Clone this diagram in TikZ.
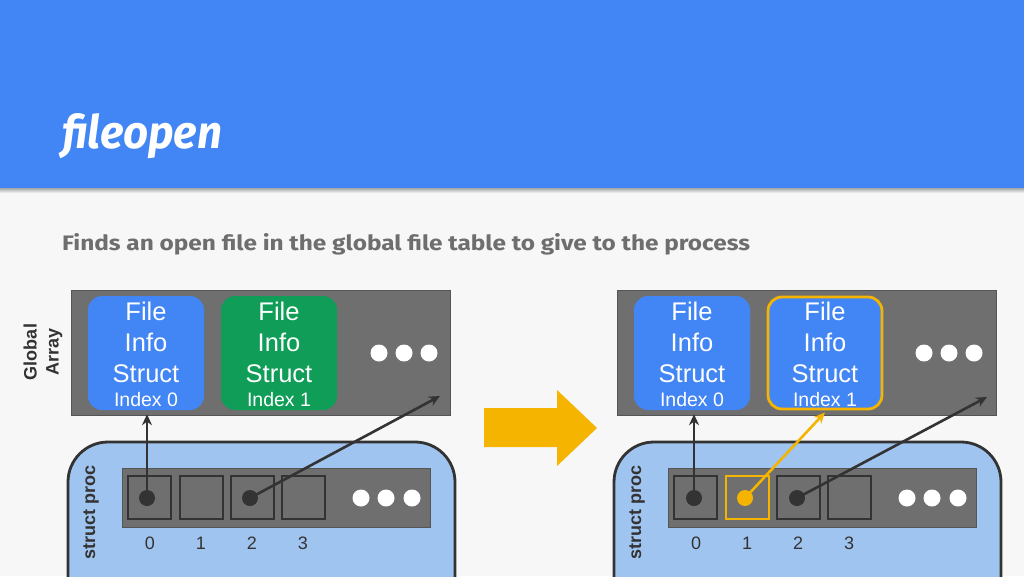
\documentclass[tikz,border=0pt]{standalone}
\usepackage{fontspec}
\setmainfont{Liberation Sans}
\newfontfamily\headfont{Fira Sans}
\usetikzlibrary{arrows.meta,shapes.geometric}
\definecolor{hdrblue}{HTML}{4285F4}
\definecolor{bgcol}{HTML}{F7F7F7}
\definecolor{arrgray}{HTML}{6F6F6F}
\definecolor{edgegray}{HTML}{555555}
\definecolor{dark}{HTML}{333333}
\definecolor{fblue}{HTML}{4285F4}
\definecolor{fgreen}{HTML}{0F9D58}
\definecolor{fyellow}{HTML}{F4B400}
\definecolor{procblue}{HTML}{A0C4F0}
\definecolor{subgray}{HTML}{6E6E6E}
\tikzset{
  arrbox/.style={fill=arrgray, draw=edgegray, line width=0.8pt},
  fbox/.style={rounded corners=14pt, minimum width=116pt, minimum height=114pt, inner sep=0pt},
  ftext/.style={anchor=base, text=white, font=\fontsize{25.5}{30}\selectfont, inner sep=0pt},
  itext/.style={anchor=base, text=white, font=\fontsize{19.5}{22}\selectfont, inner sep=0pt},
  wdot/.style={circle, fill=white, minimum size=17pt, inner sep=0pt},
  bdot/.style={circle, fill=dark, minimum size=16pt, inner sep=0pt},
  cell/.style={draw=dark, line width=2.8pt, minimum size=43pt, inner sep=0pt},
  numtext/.style={anchor=base, text=dark, font=\fontsize{18}{20}\selectfont, inner sep=0pt},
  vlabel/.style={rotate=90, text=dark, font=\bfseries\fontsize{18}{22}\selectfont, align=center, inner sep=0pt},
  proc/.style={fill=procblue, draw=dark, line width=2.8pt, rounded corners=40pt},
  ptr/.style={draw=dark, line width=2.6pt, -{Stealth[length=11pt,width=10pt]}},
  yptr/.style={draw=fyellow, line width=2.6pt, -{Stealth[length=11pt,width=10pt]}},
}
\begin{document}
\begin{tikzpicture}[x=1pt,y=-1pt]
\useasboundingbox (0,0) rectangle (1024,576);
\clip (0,0) rectangle (1024,576);
\fill[bgcol] (0,0) rectangle (1024,576);
\fill[hdrblue] (0,0) rectangle (1024,188);
\shade[top color=gray!70, bottom color=bgcol] (0,188) rectangle (1024,193);
\node[anchor=base west, inner sep=0pt, text=white] (title) at (62,148)
  {\resizebox{160pt}{35pt}{\headfont\bfseries\itshape fileopen}};
\node[anchor=base west, inner sep=0pt, text=subgray] (sub) at (62,250)
  {\resizebox{688pt}{17pt}{\headfont\bfseries Finds an open file in the global file table to give to the process}};

% ---------------- left panel ----------------
\node[vlabel] (glab) at (43,352) {Global\\Array};
\node[arrbox, minimum width=379pt, minimum height=125pt, inner sep=0pt] (ga) at (260.5,352.5) {};
\node[fbox, fill=fblue] (fa0) at (146,353) {};
\node[fbox, fill=fgreen] (fa1) at (279,353) {};
\path (fa0.center) ++(0,-33) node[ftext] {File} ++(0,31) node[ftext] {Info} ++(0,31) node[ftext] {Struct} ++(0,24) node[itext] {Index 0};
\path (fa1.center) ++(0,-33) node[ftext] {File} ++(0,31) node[ftext] {Info} ++(0,31) node[ftext] {Struct} ++(0,24) node[itext] {Index 1};
\node[wdot] (gw1) at (379,353) {};
\node[wdot] (gw2) at (404,353) {};
\node[wdot] (gw3) at (429,353) {};

\draw[proc] (68,442) rectangle (455,640);
\node[vlabel] (plab) at (91,512) {struct proc};
\node[arrbox, minimum width=308pt, minimum height=59pt, inner sep=0pt] (pa) at (276,497.5) {};
\node[cell] (c0) at (149.5,497.5) {};
\node[cell] (c1) at (201.5,497.5) {};
\node[cell] (c2) at (252.5,497.5) {};
\node[cell] (c3) at (303.5,497.5) {};
\node[wdot] (pw1) at (361,498) {};
\node[wdot] (pw2) at (386,498) {};
\node[wdot] (pw3) at (412,498) {};
\node[numtext] at (150,549) {0};
\node[numtext] at (201,549) {1};
\node[numtext] at (252,549) {2};
\node[numtext] at (303,549) {3};
\node[bdot] (d0) at (147,498) {};
\node[bdot] (d2) at (250,498) {};
\coordinate (e2) at (440,396);
\draw[ptr] (d0.center) -- ([yshift=-4pt]d0.center |- fa0.south);
\draw[ptr] (d2.center) -- (e2);

% ---------------- big arrow ----------------
\fill[fyellow] (484,408) -- (557,408) -- (557,390) -- (597,428) -- (557,466) -- (557,447) -- (484,447) -- cycle;

% ---------------- right panel ----------------
\node[arrbox, minimum width=379pt, minimum height=125pt, inner sep=0pt] (gb) at (806.5,352.5) {};
\node[fbox, fill=fblue] (fb0) at (692,353) {};
\node[fbox, fill=fblue, draw=fyellow, line width=2.8pt, minimum width=114pt, minimum height=112pt] (fb1) at (825,353) {};
\path (fb0.center) ++(0,-33) node[ftext] {File} ++(0,31) node[ftext] {Info} ++(0,31) node[ftext] {Struct} ++(0,24) node[itext] {Index 0};
\path (fb1.center) ++(0,-33) node[ftext] {File} ++(0,31) node[ftext] {Info} ++(0,31) node[ftext] {Struct} ++(0,24) node[itext] {Index 1};
\node[wdot] (hw1) at (924,353) {};
\node[wdot] (hw2) at (949,353) {};
\node[wdot] (hw3) at (974,353) {};

\draw[proc] (614,442) rectangle (1001,640);
\node[vlabel] (qlab) at (637,512) {struct proc};
\node[arrbox, minimum width=308pt, minimum height=59pt, inner sep=0pt] (qa) at (822,497.5) {};
\node[cell] (k0) at (695.5,497.5) {};
\node[cell, draw=fyellow] (k1) at (747.5,497.5) {};
\node[cell] (k2) at (798.5,497.5) {};
\node[cell] (k3) at (849.5,497.5) {};
\node[wdot] (qw1) at (907,498) {};
\node[wdot] (qw2) at (932,498) {};
\node[wdot] (qw3) at (958,498) {};
\node[numtext] at (696,549) {0};
\node[numtext] at (747,549) {1};
\node[numtext] at (798,549) {2};
\node[numtext] at (849,549) {3};
\node[bdot] (r0) at (694,498) {};
\node[bdot, fill=fyellow] (r1) at (745,498) {};
\node[bdot] (r2) at (797,498) {};
\coordinate (f2) at (987,397);
\draw[ptr] (r0.center) -- ([yshift=-4pt]r0.center |- fb0.south);
\draw[yptr] (r1.center) -- ([yshift=-2pt]fb1.south);
\draw[ptr] (r2.center) -- (f2);
\end{tikzpicture}
\end{document}
